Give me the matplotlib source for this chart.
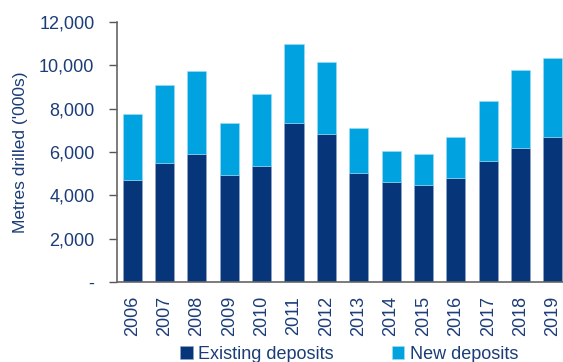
import numpy as np
import matplotlib
matplotlib.use('Agg')
import matplotlib.pyplot as plt

# data ('000s metres)
years = ['2006', '2007', '2008', '2009', '2010', '2011', '2012',
         '2013', '2014', '2015', '2016', '2017', '2018', '2019']
existing = [4710, 5510, 5890, 4940, 5340, 7320, 6840,
            5040, 4630, 4480, 4780, 5580, 6200, 6710]
new = [3030, 3570, 3830, 2380, 3340, 3660, 3340,
       2050, 1430, 1410, 1910, 2790, 3600, 3630]

dark = '#06357A'
light = '#00A3E0'
txt = '#1B3C78'

plt.rcParams['font.family'] = ['Liberation Sans', 'DejaVu Sans']

fig = plt.figure(figsize=(5.63, 3.62), dpi=100)
ax = fig.add_axes([0.2073, 0.221, 0.80, 0.718])

x = np.arange(len(years))
b1 = ax.bar(x, existing, width=0.59, color=dark, edgecolor='#8FA8CC', linewidth=0.4)
b2 = ax.bar(x, new, width=0.59, bottom=existing, color=light, edgecolor='#9FDDF5', linewidth=0.4)

ax.set_ylim(0, 12000)
ax.set_xlim(-0.48, 13.44)
ax.set_yticks(range(0, 12001, 2000))
ax.set_yticklabels(['-'] + ['{:,}'.format(v) for v in range(2000, 12001, 2000)])
ax.set_xticks(x)
ax.set_xticklabels(years, rotation=90)

ax.tick_params(axis='y', colors='#555555', labelcolor=txt, labelsize=13, length=6, width=1, pad=10)
ax.tick_params(axis='x', labelcolor=txt, labelsize=13, length=0, pad=10)
for s in ['top', 'right']:
    ax.spines[s].set_visible(False)
for s in ['left', 'bottom']:
    ax.spines[s].set_color('#666666')
    ax.spines[s].set_linewidth(1.2)

ax.set_ylabel("Metres drilled ('000s)", color=txt, fontsize=12.5, labelpad=8)

fig.legend([b1, b2], ['Existing deposits', 'New deposits'], loc='center',
           bbox_to_anchor=(0.62, 0.022), ncol=2, frameon=False, fontsize=13,
           handlelength=0.7, handleheight=0.7, handletextpad=0.3,
           columnspacing=3.2, labelcolor=txt)

fig.savefig('out.png', dpi=100)
